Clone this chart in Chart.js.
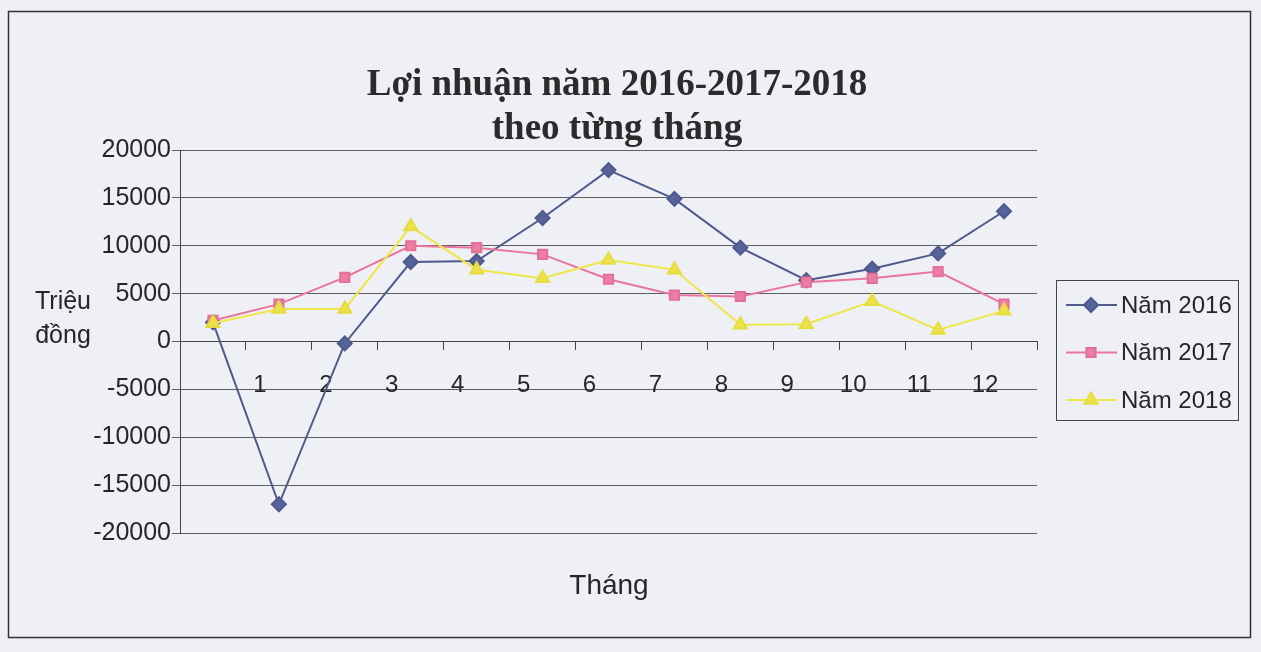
<!DOCTYPE html>
<html>
<head>
<meta charset="utf-8">
<script src="https://cdn.jsdelivr.net/npm/chart.js@4.4.1/dist/chart.umd.min.js"></script>
<style>
  html, body { margin: 0; padding: 0; background: #eef0f5; }
  #wrap { position: relative; width: 1261px; height: 652px; }
</style>
</head>
<body>
<div id="wrap"><canvas id="chart" width="1261" height="652"></canvas></div>
<script>
// months (first category is the blank starting point)
const months = ['', '1', '2', '3', '4', '5', '6', '7', '8', '9', '10', '11', '12'];
const seriesNames = ['Năm 2016', 'Năm 2017', 'Năm 2018'];
const nam2016 = [2000, -17000, -200, 8300, 8400, 12900, 17900, 14900, 9800, 6400, 7600, 9200, 13600];
const nam2017 = [2200, 3900, 6700, 10000, 9800, 9100, 6500, 4850, 4700, 6200, 6600, 7300, 3900];
const nam2018 = [1900, 3400, 3400, 12000, 7500, 6600, 8500, 7500, 1750, 1800, 4200, 1200, 3200];
const yTicks = [-20000, -15000, -10000, -5000, 0, 5000, 10000, 15000, 20000];

const titleLines = ['Lợi nhuận năm 2016-2017-2018', 'theo từng tháng'];
const yTitle = ['Triệu', 'đồng'];
const xTitle = 'Tháng';

const textColor = '#262626';

// paper background + outer frame
const paperPlugin = {
    id: 'paper',
    beforeDraw(chart) {
        const ctx = chart.ctx;
        ctx.save();
        ctx.fillStyle = '#eef0f5';
        ctx.fillRect(0, 0, chart.width, chart.height);
        ctx.strokeStyle = '#333';
        ctx.lineWidth = 1.5;
        ctx.strokeRect(8.5, 11.5, 1242, 626);
        ctx.restore();
    }
};

// title, axis titles and the boxed legend, Excel style
const labelsPlugin = {
    id: 'labels',
    afterDraw(chart) {
        const ctx = chart.ctx;
        const y = chart.scales.y;
        ctx.save();

        ctx.fillStyle = '#2b2b2b';
        ctx.font = 'bold 37px "Liberation Serif"';
        ctx.textAlign = 'center';
        ctx.textBaseline = 'alphabetic';
        ctx.fillText(titleLines[0], 617, 95);
        ctx.fillText(titleLines[1], 617, 139);

        ctx.fillStyle = textColor;
        ctx.font = '25px "Liberation Sans"';
        const zero = y.getPixelForValue(0);
        ctx.fillText(yTitle[0], 63, zero - 33);
        ctx.fillText(yTitle[1], 63, zero + 1);

        ctx.font = '28px "Liberation Sans"';
        ctx.fillText(xTitle, 609, 594);

        // legend
        ctx.strokeStyle = '#444';
        ctx.lineWidth = 1;
        ctx.strokeRect(1056.5, 280.5, 182, 140);
        ctx.font = '24px "Liberation Sans"';
        ctx.textAlign = 'left';
        ctx.textBaseline = 'middle';
        chart.data.datasets.forEach((ds, i) => {
            const ly = 305 + i * 47.5;
            ctx.strokeStyle = ds.borderColor;
            ctx.lineWidth = 2;
            ctx.beginPath();
            ctx.moveTo(1066, ly);
            ctx.lineTo(1117, ly);
            ctx.stroke();
            ctx.fillStyle = ds.pointBackgroundColor;
            ctx.strokeStyle = ds.pointBorderColor;
            Chart.helpers.drawPoint(ctx, {
                pointStyle: ds.pointStyle, radius: ds.pointRadius, rotation: 0, borderWidth: 1
            }, 1091, ly);
            ctx.fillStyle = textColor;
            ctx.fillText(ds.label, 1121, ly + 1);
        });
        ctx.restore();
    }
};

const ctx = document.getElementById('chart').getContext('2d');
new Chart(ctx, {
    type: 'line',
    data: {
        labels: months,
        datasets: [
            {
                label: seriesNames[0], data: nam2016, order: 2,
                borderColor: '#4e5a8c', backgroundColor: '#4e5a8c',
                pointBackgroundColor: '#56629a', pointBorderColor: '#4e5a8c',
                pointStyle: 'rectRot', pointRadius: 7, borderWidth: 2, tension: 0
            },
            {
                label: seriesNames[1], data: nam2017, order: 1,
                borderColor: '#e8759c', backgroundColor: '#e8759c',
                pointBackgroundColor: '#ec7ea3', pointBorderColor: '#e27098',
                pointStyle: 'rect', pointRadius: 6.5, borderWidth: 2, tension: 0
            },
            {
                label: seriesNames[2], data: nam2018, order: 0,
                borderColor: '#efe64a', backgroundColor: '#efe64a',
                pointBackgroundColor: '#ede24a', pointBorderColor: '#e6dc40',
                pointStyle: 'triangle', pointRadius: 7.5, borderWidth: 2, tension: 0
            }
        ]
    },
    options: {
        responsive: false,
        animation: false,
        layout: { padding: { top: 150, right: 224, bottom: 119, left: 0 } },
        plugins: {
            legend: { display: false },
            title: { display: false },
            tooltip: { enabled: false }
        },
        scales: {
            x: {
                type: 'category',
                offset: true,
                position: { y: 0 },
                border: { display: true, color: '#444', width: 1 },
                grid: { drawOnChartArea: false, offset: true, tickLength: 8, color: '#444' },
                ticks: {
                    color: textColor, font: { family: 'Liberation Sans', size: 24 },
                    padding: 21, labelOffset: -19, maxRotation: 0, autoSkip: false
                }
            },
            y: {
                min: -20000, max: 20000,
                afterBuildTicks: s => { s.ticks = yTicks.map(v => ({ value: v })); },
                afterFit: s => { s.width = 180; },
                border: { display: true, color: '#444', width: 1 },
                grid: { color: '#5e5e5e', lineWidth: 1, tickLength: 8 },
                ticks: {
                    color: textColor, font: { family: 'Liberation Sans', size: 25 },
                    padding: 1, callback: v => String(v)
                }
            }
        }
    },
    plugins: [paperPlugin, labelsPlugin]
});
</script>
</body>
</html>
